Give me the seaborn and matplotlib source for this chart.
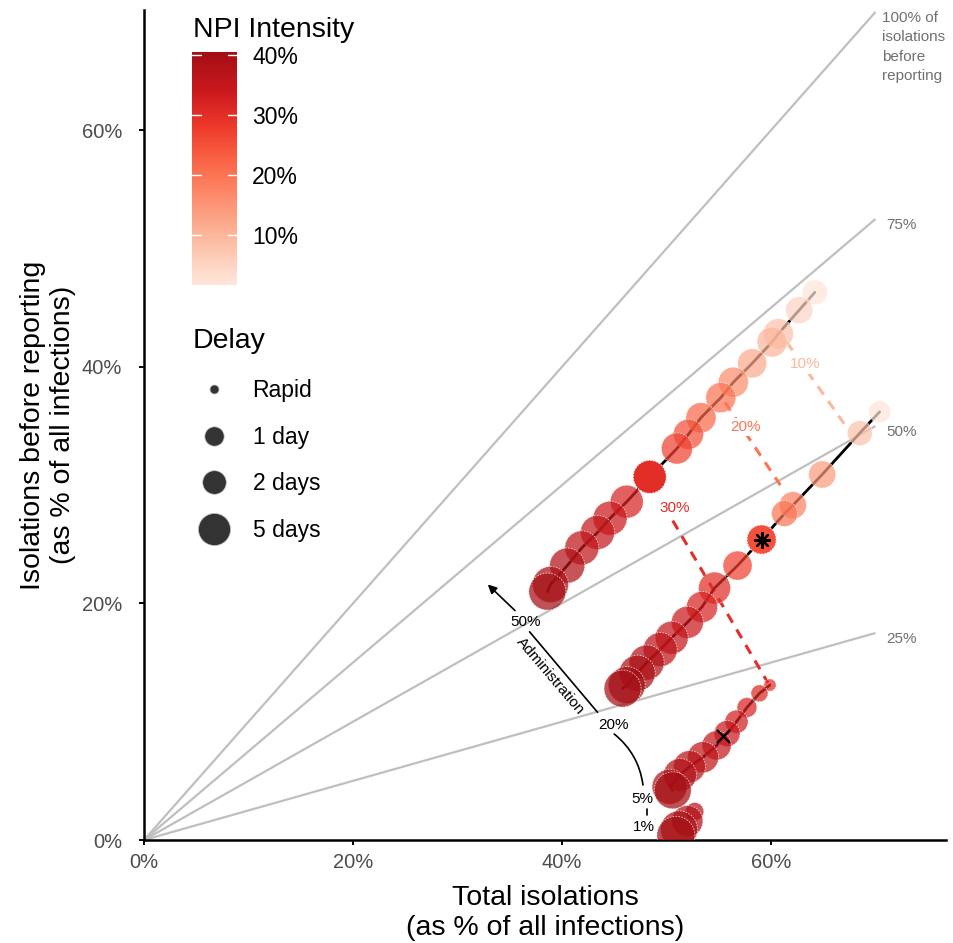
import numpy as np
import pandas as pd
import matplotlib
matplotlib.use("Agg")
import matplotlib.pyplot as plt
import seaborn as sns
from matplotlib.colors import LinearSegmentedColormap, Normalize
from matplotlib.cm import ScalarMappable
from matplotlib.lines import Line2D

# ---------------- data ----------------
# Administration 50 %
a50_total = [64.2, 62.7, 60.7, 60.1, 58.2, 56.4, 55.2, 53.3, 52.1, 51.0, 48.4, 46.2, 44.6, 43.4, 41.9, 40.5, 38.9, 38.6]
a50_before = [46.3, 44.8, 42.8, 42.1, 40.3, 38.7, 37.4, 35.7, 34.3, 33.1, 30.7, 28.6, 27.2, 26.0, 24.7, 23.2, 21.6, 21.0]
a50_intensity = [1.7, 5, 8, 10, 12, 16, 20, 22, 25, 27, 30, 32, 34, 35, 36, 38, 39, 40]
a50_delay = [2.4, 3.1, 4.2, 4.2, 3.8, 4.2, 4.2, 4.2, 4.2, 4.6, 5.4, 5.4, 5.9, 5.9, 5.9, 6.4, 6.9, 7.4]

# Administration 20 %
a20_total = [70.4, 68.5, 64.9, 62.1, 61.3, 59.1, 56.8, 54.6, 53.4, 52.0, 50.5, 49.4, 48.1, 47.2, 46.2, 45.8]
a20_before = [36.2, 34.4, 30.9, 28.3, 27.6, 25.4, 23.2, 21.3, 19.7, 18.4, 17.1, 16.1, 15.0, 14.1, 13.1, 12.8]
a20_intensity = [1.7, 8, 14, 18, 20, 25, 27, 30, 32, 34, 35, 36, 38, 39, 40, 40]
a20_delay = [1.6, 2.4, 3.1, 3.1, 2.7, 3.8, 3.8, 5.0, 4.6, 5.0, 5.4, 5.9, 6.4, 6.9, 7.4, 7.4]

# Administration 5 %
a5_total = [59.9, 58.9, 57.7, 56.7, 55.8, 54.8, 53.5, 52.2, 51.3, 50.3, 50.6]
a5_before = [13.1, 12.4, 11.2, 10.0, 9.0, 8.0, 7.0, 6.2, 5.5, 4.5, 4.2]
a5_intensity = [30, 31, 32, 33, 34, 35, 36, 37, 38, 39, 40]
a5_delay = [0.1, 0.6, 1.1, 1.9, 2.7, 3.8, 4.6, 5.0, 5.4, 6.4, 7.4]

# Administration 1 %
a1_total = [52.7, 52.0, 51.2, 50.9]
a1_before = [2.4, 1.6, 0.9, 0.4]
a1_intensity = [37, 38, 39, 40]
a1_delay = [0.8, 4.6, 7.4, 7.9]

# highlighted scenarios
solid_total = [48.4, 59.1]
solid_before = [30.7, 25.4]
solid_intensity = [30, 25]
solid_delay = [5.4, 3.8]
star_total = [59.1]
star_before = [25.4]
cross_total = [55.4]
cross_before = [8.8]

# iso-intensity dashed lines
iso_intensity = [10, 20, 30]
iso_x0 = [61.5, 55.6, 50.6]
iso_y0 = [42.1, 37.0, 27.0]
iso_x1 = [67.0, 60.9, 59.7]
iso_y1 = [35.2, 30.0, 13.3]
iso_label_x = [63.3, 57.6, 50.8]
iso_label_y = [40.2, 34.9, 28.1]

# reference lines
ref_slopes = [1.0, 0.75, 0.5, 0.25]
ref_labels = ["100% of\nisolations\nbefore\nreporting", "75%", "50%", "25%"]
ref_xmax = 70

# administration annotation
admin_labels = ["1%", "5%", "20%", "50%"]
admin_label_x = [47.8, 47.7, 44.9, 36.5]
admin_label_y = [1.1, 3.5, 9.7, 18.4]

# legends
intensity_ticks = [10, 20, 30, 40]
intensity_range = (1.7, 40.5)
delay_legend_values = [0.0, 1.0, 2.0, 5.0]
delay_legend_labels = ["Rapid", "1 day", "2 days", "5 days"]

x_ticks = [0, 20, 40, 60]
y_ticks = [0, 20, 40, 60]

# ---------------- build table ----------------
frames = []
for lvl, t, b, i, d in [("50%", a50_total, a50_before, a50_intensity, a50_delay),
                        ("20%", a20_total, a20_before, a20_intensity, a20_delay),
                        ("5%", a5_total, a5_before, a5_intensity, a5_delay),
                        ("1%", a1_total, a1_before, a1_intensity, a1_delay)]:
    frames.append(pd.DataFrame({"admin": lvl, "total": t, "before": b,
                                "intensity": i, "delay": d}))
df = pd.concat(frames, ignore_index=True)
solid_df = pd.DataFrame({"total": solid_total, "before": solid_before,
                         "intensity": solid_intensity, "delay": solid_delay})

# ---------------- styles ----------------
DPI = 100
PT = 72 / DPI  # points per pixel


def delay_to_diam_px(d):
    # ggplot-like area scale: 9 px (0 days) -> 32 px (5 days)
    return 9 + 23 * np.sqrt(max(d, 0) / 5.0)


def delay_to_area(d):
    return (delay_to_diam_px(d) * PT) ** 2


base = plt.get_cmap("Reds")
cmap = LinearSegmentedColormap.from_list("reds_trunc", base(np.linspace(0.10, 0.88, 256)))
norm = Normalize(*intensity_range)

all_delays = sorted(set(df["delay"]).union(solid_delay))
size_map = {d: delay_to_area(d) for d in all_delays}

sns.set_style("ticks")
plt.rcParams["font.family"] = ["Liberation Sans", "DejaVu Sans"]
plt.rcParams["text.color"] = "black"
plt.rcParams["axes.labelcolor"] = "black"

W, H = 954, 943
fig = plt.figure(figsize=(W / DPI, H / DPI), dpi=DPI)
ax = fig.add_axes([144 / W, (H - 840) / H, 802 / W, 830 / H])

# reference lines
for s, lab in zip(ref_slopes, ref_labels):
    ax.plot([0, ref_xmax], [0, ref_xmax * s], color="#bfbfbf", lw=1.6, zorder=1,
            solid_capstyle="butt")
    if s == 1.0:
        ax.text(ref_xmax + 0.6, 70.1, lab, ha="left", va="top", color="#707070",
                fontsize=11, linespacing=1.5, clip_on=False)
    else:
        ax.text(ref_xmax + 1.0, ref_xmax * s - 0.5, lab, ha="left", va="center",
                color="#707070", fontsize=11, clip_on=False)

# iso-intensity dashed lines
for i, x0, y0, x1, y1, lx, ly in zip(iso_intensity, iso_x0, iso_y0, iso_x1, iso_y1,
                                      iso_label_x, iso_label_y):
    c = cmap(norm(i))
    ax.plot([x0, x1], [y0, y1], color=c, lw=2.2, dashes=(3.3, 2.6), zorder=2)
    ax.text(lx, ly, f"{i}%", color=c, fontsize=11, ha="center", va="center", zorder=2.5,
            bbox=dict(facecolor="white", edgecolor="none", pad=1.5))

# cluster lines
sns.lineplot(data=df[df["admin"] != "1%"], x="total", y="before", units="admin",
             estimator=None, sort=False, color="black", lw=2.0, ax=ax, zorder=2)

# scenario circles
sns.scatterplot(data=df, x="total", y="before", hue="intensity", size="delay",
                palette=cmap, hue_norm=norm, sizes=size_map, alpha=0.72,
                edgecolor="white", linewidth=0.6, legend=False, ax=ax, zorder=3)
ax.collections[-1].set_linestyle((0, (2, 1.5)))
sns.scatterplot(data=solid_df, x="total", y="before", hue="intensity", size="delay",
                palette=cmap, hue_norm=norm, sizes=size_map, alpha=1.0,
                edgecolor="white", linewidth=0.6, legend=False, ax=ax, zorder=3.5)
ax.collections[-1].set_linestyle((0, (2, 1.5)))

# markers
ax.scatter(star_total, star_before, marker=(8, 2, 0), s=(15 * PT) ** 2, color="black",
           linewidths=1.6, zorder=5)
ax.scatter(cross_total, cross_before, marker="x", s=(13 * PT) ** 2, color="black",
           linewidths=1.6, zorder=5)

# administration annotation
for lab, x, y in zip(admin_labels, admin_label_x, admin_label_y):
    ax.text(x, y, lab, fontsize=11, ha="center", va="center", zorder=6)
ax.plot([48.1, 48.1], [2.1, 2.6], color="black", lw=1.2)
ax.annotate("", xy=(45.0, 8.96), xytext=(47.75, 4.65),
            arrowprops=dict(arrowstyle="-", color="black", lw=1.2,
                            connectionstyle="arc3,rad=0.2", shrinkA=0, shrinkB=0))
ax.plot([43.4, 36.9], [10.8, 17.6], color="black", lw=1.2)
ax.annotate("", xy=(32.9, 21.6), xytext=(35.5, 19.4),
            arrowprops=dict(arrowstyle="-|>", color="black", lw=1.2, mutation_scale=13,
                            shrinkA=0, shrinkB=0))
ax.text(38.9, 13.9, "Administration", rotation=-49.5, rotation_mode="anchor",
        ha="center", va="center", fontsize=11)

# axes
ax.set_xlim(0, 76.75)
ax.set_ylim(0, 70.17)
ax.set_xticks(x_ticks)
ax.set_yticks(y_ticks)
ax.set_xticklabels([f"{v}%" for v in x_ticks])
ax.set_yticklabels([f"{v}%" for v in y_ticks])
ax.tick_params(axis="both", length=3.6, width=1.4, color="black", labelsize=14.5,
               labelcolor="#4d4d4d")
ax.tick_params(axis="x", pad=5.5)
ax.tick_params(axis="y", pad=12)
for side in ["top", "right"]:
    ax.spines[side].set_visible(False)
for side in ["left", "bottom"]:
    ax.spines[side].set_linewidth(1.8)
    ax.spines[side].set_color("black")
ax.set_xlabel("Total isolations\n(as % of all infections)", fontsize=20.5, labelpad=9.5,
              linespacing=1.2, color="black")
ax.set_ylabel("Isolations before reporting\n(as % of all infections)", fontsize=20.5,
              labelpad=4, linespacing=1.2, color="black")

# colour legend
fig.text(193 / W, 1 - 30 / H, "NPI Intensity", fontsize=20.5, va="center", ha="left",
         color="black")
cax = fig.add_axes([192 / W, 1 - 285 / H, 45 / W, 233 / H])
cb = fig.colorbar(ScalarMappable(norm=norm, cmap=cmap), cax=cax, ticks=intensity_ticks)
cb.outline.set_visible(False)
cb.set_ticklabels([f"{t}%" for t in intensity_ticks])
cax.tick_params(length=0, labelsize=16.5, pad=11, labelcolor="black")
for t in intensity_ticks:
    cax.plot([0, 0.2], [t, t], color="white", lw=1.0, transform=cax.get_yaxis_transform())
    cax.plot([0.8, 1.0], [t, t], color="white", lw=1.0, transform=cax.get_yaxis_transform())

# size legend
fig.text(193 / W, 1 - 341 / H, "Delay", fontsize=20.5, va="center", ha="left",
         color="black")
handles = [Line2D([], [], marker="o", ls="", markersize=delay_to_diam_px(d) * PT,
                  markerfacecolor="#333333", markeredgecolor="#bbbbbb",
                  markeredgewidth=0.5) for d in delay_legend_values]
leg = ax.legend(handles, delay_legend_labels, loc="upper left",
                bbox_to_anchor=(193 / W, 1 - 379 / H), bbox_transform=fig.transFigure,
                frameon=False, fontsize=16.5, handlelength=1.8, handletextpad=0.8,
                labelspacing=1.03, borderpad=0, borderaxespad=0, labelcolor="black")

fig.savefig("out.png", dpi=DPI)
